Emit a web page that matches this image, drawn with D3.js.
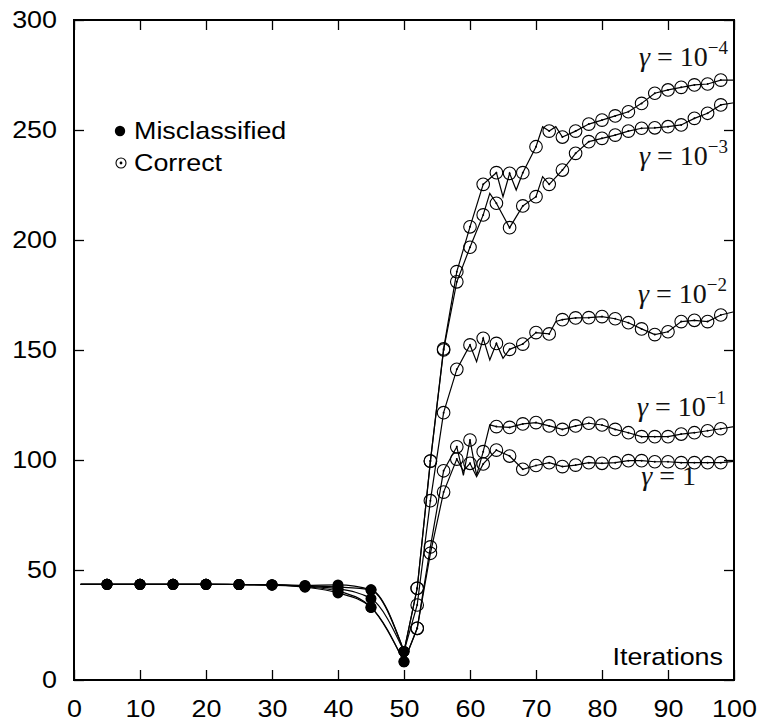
<!DOCTYPE html>
<html>
<head>
<meta charset="utf-8">
<script src="https://cdn.jsdelivr.net/npm/d3@7"></script>
<style>
  html, body { margin: 0; padding: 0; background: #fff; }
  svg { display: block; }
</style>
</head>
<body>
<svg id="chart" width="765" height="727"></svg>
<script>
// ---------------- DATA ----------------
const xTicks = [0, 10, 20, 30, 40, 50, 60, 70, 80, 90, 100];
const yTicks = [0, 50, 100, 150, 200, 250, 300];
const seriesNames = ["γ = 10^-4", "γ = 10^-3", "γ = 10^-2", "γ = 10^-1", "γ = 1"];
const labelBase = ["10", "10", "10", "10", "1"];
const labelExp = ["−4", "−3", "−2", "−1", ""];

const startIter = 1;
const startValue = [43.5, 43.5, 43.5, 43.5, 43.5];

// Misclassified markers (every 5 iterations up to 50)
const miscIters = [5, 10, 15, 20, 25, 30, 35, 40, 45, 50];
const misc_g4 = [43.5, 43.5, 43.5, 43.5, 43.4, 43.3, 43.0, 43.2, 41.0, 13.0];
const misc_g3 = [43.5, 43.5, 43.5, 43.5, 43.4, 43.3, 42.8, 42.3, 41.0, 13.0];
const misc_g2 = [43.5, 43.5, 43.5, 43.5, 43.4, 43.2, 42.6, 41.4, 37.0, 13.0];
const misc_g1 = [43.5, 43.5, 43.5, 43.5, 43.4, 43.2, 42.4, 40.4, 33.0, 8.3];
const misc_g0 = [43.5, 43.5, 43.5, 43.5, 43.4, 43.1, 42.2, 39.6, 33.0, 8.3];

// Correct markers (every 2 iterations from 52)
const corrIters = [52, 54, 56, 58, 60, 62, 64, 66, 68, 70, 72, 74, 76, 78, 80, 82, 84, 86, 88, 90, 92, 94, 96, 98];
const corr_g4 = [41.7, 99.5, 150.5, 185.6, 206.0, 225.3, 230.6, 230.3, 230.6, 242.4, 249.5, 246.8, 249.5, 252.7, 254.5, 256.4, 258.3, 262.1, 266.7, 268.2, 269.4, 270.5, 270.9, 272.7];
const corr_g3 = [41.7, 99.5, 150.0, 181.0, 196.7, 211.4, 216.7, 205.6, 215.5, 219.7, 225.3, 231.8, 239.4, 244.7, 246.2, 247.7, 249.5, 250.8, 251.0, 251.5, 252.3, 255.3, 257.6, 261.4];
const corr_g2 = [34.1, 81.5, 121.5, 141.2, 152.3, 155.3, 153.0, 150.3, 152.7, 157.9, 157.3, 163.8, 164.6, 164.7, 165.2, 164.2, 162.4, 159.6, 157.0, 158.3, 162.9, 163.5, 162.9, 165.9];
const corr_g1 = [23.5, 60.5, 95.1, 106.0, 109.1, 103.8, 115.2, 114.8, 116.4, 117.0, 115.5, 113.9, 115.5, 116.7, 115.9, 113.9, 112.4, 110.6, 110.6, 110.6, 111.8, 112.4, 113.3, 114.2];
const corr_g0 = [23.5, 57.6, 85.4, 100.4, 98.5, 98.2, 104.5, 101.8, 95.8, 97.5, 98.8, 97.0, 97.7, 98.8, 98.5, 98.8, 99.7, 99.7, 99.2, 99.2, 98.8, 98.8, 98.8, 98.8];

// Unmarked iterations visible as line vertices (zig-zags) and the final iteration
const extra_g4 = [[65, 219.7], [67, 222.7], [71, 251.5], [73, 251.5], [100, 272.7]];
const extra_g3 = [[63, 221.2], [71, 228.8], [100, 262.4]];
const extra_g2 = [[61, 144.7], [63, 145.5], [65, 146.2], [73, 163.0], [100, 167.4]];
const extra_g1 = [[59, 93.0], [61, 93.0], [63, 116.0], [100, 115.2]];
const extra_g0 = [[59, 95.0], [61, 92.4], [100, 99.4]];

const miscSeries = [misc_g4, misc_g3, misc_g2, misc_g1, misc_g0];
const corrSeries = [corr_g4, corr_g3, corr_g2, corr_g1, corr_g0];
const extraSeries = [extra_g4, extra_g3, extra_g2, extra_g1, extra_g0];

const legendLabels = ["Misclassified", "Correct"];
const xAxisTitle = "Iterations";

// ---------------- LAYOUT ----------------
const W = 765, H = 727;
const plot = { left: 74, right: 734, top: 20, bottom: 680 };
const FONT = "'Liberation Sans', Arial, Helvetica, sans-serif";
const SERIF = "'Liberation Serif', 'Times New Roman', serif";
const STRETCH = 1.12;

const svg = d3.select("#chart");
const x = d3.scaleLinear().domain([0, 100]).range([plot.left, plot.right]);
const y = d3.scaleLinear().domain([0, 300]).range([plot.bottom, plot.top]);

// ---------------- AXES ----------------
function stretchTexts(sel, dx, anchor) {
  sel.selectAll(".tick text").each(function () {
    const t = d3.select(this);
    const tx = +t.attr("x") || 0;
    const ty = +t.attr("y") || 0;
    t.attr("x", 0).attr("y", 0)
     .attr("transform", `translate(${tx},${ty}) scale(${STRETCH},1)`);
  });
}

const gx = svg.append("g").attr("transform", `translate(0,${plot.bottom})`)
  .call(d3.axisBottom(x).tickValues(xTicks).tickSizeInner(-10).tickSizeOuter(0).tickPadding(20));
const gxTop = svg.append("g").attr("transform", `translate(0,${plot.top})`)
  .call(d3.axisTop(x).tickValues(xTicks).tickSizeInner(-10).tickSizeOuter(0).tickFormat(""));
const gy = svg.append("g").attr("transform", `translate(${plot.left},0)`)
  .call(d3.axisLeft(y).tickValues(yTicks).tickSizeInner(-10).tickSizeOuter(0).tickPadding(17));
const gyR = svg.append("g").attr("transform", `translate(${plot.right},0)`)
  .call(d3.axisRight(y).tickValues(yTicks).tickSizeInner(-10).tickSizeOuter(0).tickFormat(""));

[gx, gxTop, gy, gyR].forEach(g => {
  g.select(".domain").remove();
  g.selectAll(".tick line").attr("stroke", "#000").attr("stroke-width", 1.3);
  g.selectAll(".tick text").attr("font-family", FONT).attr("font-size", 24).attr("fill", "#000");
});
stretchTexts(gx);
stretchTexts(gy);

// frame
svg.append("rect")
  .attr("x", plot.left).attr("y", plot.top)
  .attr("width", plot.right - plot.left).attr("height", plot.bottom - plot.top)
  .attr("fill", "none").attr("stroke", "#000").attr("stroke-width", 2);

// ---------------- SERIES ----------------
const lineSmooth = d3.line().x(d => x(d[0])).y(d => y(d[1])).curve(d3.curveMonotoneX);
const lineLin = d3.line().x(d => x(d[0])).y(d => y(d[1]));

const gLines = svg.append("g");
const gMarks = svg.append("g");

seriesNames.forEach((name, i) => {
  const misc = miscIters.map((it, k) => [it, miscSeries[i][k]]);
  const corr = corrIters.map((it, k) => [it, corrSeries[i][k]]);
  const early = [[startIter, startValue[i]]].concat(misc);
  const late = [misc[misc.length - 1]].concat(corr, extraSeries[i]).sort((a, b) => a[0] - b[0]);

  gLines.append("path").attr("d", lineSmooth(early))
    .attr("fill", "none").attr("stroke", "#000").attr("stroke-width", 1.2);
  gLines.append("path").attr("d", lineLin(late))
    .attr("fill", "none").attr("stroke", "#000").attr("stroke-width", 1.2)
    .attr("stroke-linejoin", "miter");

  gMarks.selectAll(null).data(corr).enter().append("circle")
    .attr("cx", d => x(d[0])).attr("cy", d => y(d[1])).attr("r", 6.3)
    .attr("fill", "none").attr("stroke", "#000").attr("stroke-width", 1.1);
  gMarks.selectAll(null).data(corr).enter().append("circle")
    .attr("cx", d => x(d[0])).attr("cy", d => y(d[1])).attr("r", 1)
    .attr("fill", "#000");
  gMarks.selectAll(null).data(misc).enter().append("circle")
    .attr("cx", d => x(d[0])).attr("cy", d => y(d[1])).attr("r", 5.5)
    .attr("fill", "#000");
});

// ---------------- SERIES LABELS ----------------
const labelRight = [728, 728, 727, 726, 696];
const labelBaseline = [66, 165, 303, 416, 485];
seriesNames.forEach((name, i) => {
  const t = svg.append("text")
    .attr("x", labelRight[i]).attr("y", labelBaseline[i])
    .attr("text-anchor", "end")
    .attr("font-family", SERIF).attr("font-size", 28).attr("fill", "#111");
  t.append("tspan").attr("font-style", "italic").text("γ");
  t.append("tspan").text(" = " + labelBase[i]);
  if (labelExp[i]) {
    t.append("tspan").attr("font-size", 19).attr("dy", -12).text(labelExp[i]);
  }
});

// ---------------- LEGEND ----------------
const lg = svg.append("g");
lg.append("circle").attr("cx", 120).attr("cy", 131).attr("r", 5.2).attr("fill", "#000");
lg.append("circle").attr("cx", 121).attr("cy", 163).attr("r", 5).attr("fill", "none").attr("stroke", "#000").attr("stroke-width", 1.1);
lg.append("circle").attr("cx", 121).attr("cy", 163).attr("r", 1.4).attr("fill", "#000");
legendLabels.forEach((lab, i) => {
  lg.append("text")
    .attr("transform", `translate(134,${[139, 171][i]}) scale(${STRETCH},1)`)
    .attr("font-family", FONT).attr("font-size", 24).attr("fill", "#000")
    .text(lab);
});

// axis title
svg.append("text")
  .attr("transform", `translate(723,665) scale(${STRETCH},1)`)
  .attr("text-anchor", "end")
  .attr("font-family", FONT).attr("font-size", 24).attr("fill", "#000")
  .text(xAxisTitle);
</script>
</body>
</html>
